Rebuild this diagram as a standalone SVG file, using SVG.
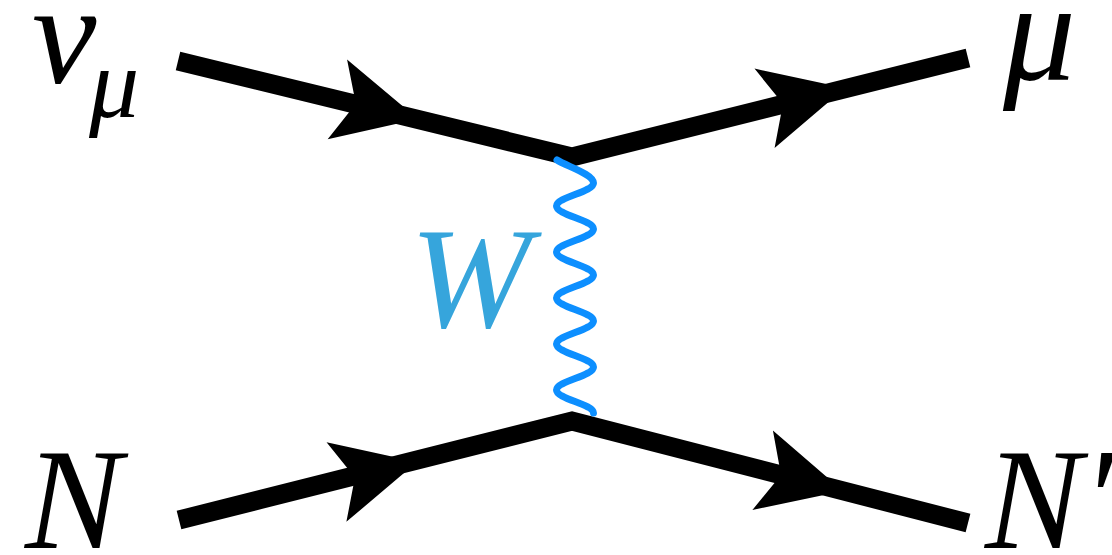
<svg xmlns="http://www.w3.org/2000/svg" xmlns:xlink="http://www.w3.org/1999/xlink" width="1112" height="555" viewBox="0 0 1112 555">
<style>
.fermion{fill:none;stroke:#000;stroke-width:19;stroke-linejoin:miter;stroke-linecap:butt}
.boson{fill:none;stroke:#0d8fff;stroke-width:7;stroke-linecap:round}
</style>
<defs>
<path id="arrow" d="M0,0 L-83,-41 L-64,0 L-83,41 Z" fill="#000"/>
</defs>
<g id="connectors">
<path class="fermion" d="M178,61 L572,157 L968,58"/>
<path class="fermion" d="M179,520 L572,421 L968,523"/>
<path class="boson" d="M557,160 C566,166 593.5,174 593.5,183 C593.5,192 556.5,197 556.5,206 C556.5,215 593.5,220 593.5,229 C593.5,238 556.5,243 556.5,252 C556.5,261 593.5,266 593.5,275 C593.5,284 556.5,289 556.5,298 C556.5,307 593.5,312 593.5,321 C593.5,330 556.5,335 556.5,344 C556.5,353 593.5,358 593.5,367 C593.5,376 556.5,381 556.5,390 C556.5,399 593.5,404 593.5,413"/>
<use xlink:href="#arrow" transform="translate(418,119) rotate(13.7)"/>
<use xlink:href="#arrow" transform="translate(845,88) rotate(-14.2)"/>
<use xlink:href="#arrow" transform="translate(417,462) rotate(-14)"/>
<use xlink:href="#arrow" transform="translate(843,491) rotate(14.5)"/>
</g>
<g font-family="Liberation Serif" font-style="italic" fill="#000">
<g id="node-numu"><text x="32" y="83" font-size="145">ν</text><text x="89" y="117" font-size="100">μ</text></g>
<g id="node-mu"><text x="1003" y="80" font-size="145">μ</text></g>
<g id="node-W"><text x="410" y="327" font-size="145" fill="#36a5dc">W</text></g>
<g id="node-N"><text x="25" y="548" font-size="145">N</text></g>
<g id="node-Nprime"><text x="985" y="548" font-size="145">N′</text></g>
</g>
</svg>
